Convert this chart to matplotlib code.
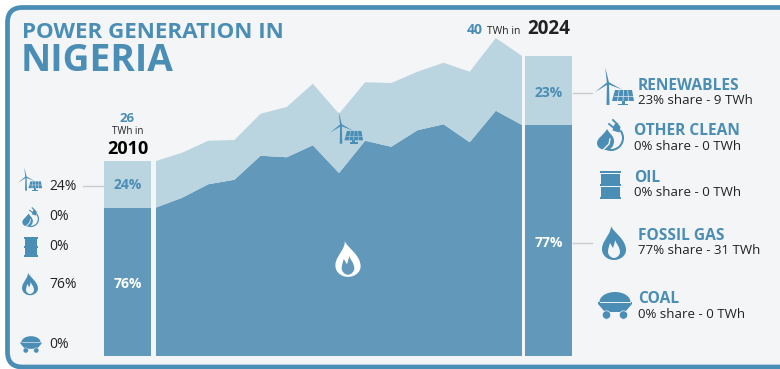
import numpy as np
import matplotlib
matplotlib.use('Agg')
import matplotlib.pyplot as plt
from matplotlib.patches import FancyBboxPatch, PathPatch, Polygon, Circle, Rectangle, Wedge, Ellipse
from matplotlib.path import Path

plt.rcParams['font.family'] = ['Open Sans', 'DejaVu Sans']

years = list(range(2010, 2025))
fossil_gas = [19.8, 21.1, 22.9, 23.5, 26.7, 26.5, 28.1, 24.4, 28.7, 27.9, 30.1, 30.9, 28.5, 32.7, 30.8]
renewables = [6.2, 6.0, 5.8, 5.3, 5.6, 6.7, 8.2, 7.9, 7.8, 8.5, 7.8, 8.2, 9.4, 9.7, 9.2]

sources = ['RENEWABLES', 'OTHER CLEAN', 'OIL', 'FOSSIL GAS', 'COAL']
share_2010 = [24, 0, 0, 76, 0]
share_2024 = [23, 0, 0, 77, 0]
twh_2024 = [9, 0, 0, 31, 0]
total_2010 = 26
total_2024 = 40

BLUE = '#4a8db5'
DARK = '#6299bb'
LIGHT = '#bad4e0'
BG = '#f3f5f7'
INK = '#222222'

fig = plt.figure(figsize=(7.8, 3.69), dpi=100, facecolor='white')


def pixel_axes(z):
    a = fig.add_axes([0, 0, 1, 1], zorder=z)
    a.set_xlim(0, 780)
    a.set_ylim(369, 0)
    a.axis('off')
    return a


back = pixel_axes(0)
front = pixel_axes(2)

# card behind everything
back.add_patch(FancyBboxPatch((7.5, 7.5), 790, 359.5, boxstyle='round,pad=0,rounding_size=15',
                              fc=BG, ec=BLUE, lw=3.4))

# chart axes: 26.14 px per year, 7.5 px per TWh, baseline at y=356
left, right = 2010 - 156 / 26.14, 2024 + 258 / 26.14
ax = fig.add_axes([0, 13 / 369, 1, 356 / 369], zorder=1)
ax.patch.set_alpha(0)
ax.set_xlim(left, right)
ax.set_ylim(0, 356 / 7.5)
ax.axis('off')

ax.stackplot(years, fossil_gas, renewables, colors=[DARK, LIGHT], lw=0)

# the two end bars
bar_x = [2008.91, 2025.01]
gas_ends = [fossil_gas[0], fossil_gas[-1]]
ren_ends = [renewables[0], renewables[-1]]
ax.bar(bar_x, gas_ends, width=1.8, color=DARK)
ax.bar(bar_x, ren_ends, bottom=gas_ends, width=1.8, color=LIGHT)


def curve(a, x, y, s, pts, fc):
    codes = [Path.MOVETO] + [Path.CURVE4] * (len(pts) - 1)
    a.add_patch(PathPatch(Path([(x + s * p, y + s * q) for p, q in pts], codes), fc=fc, lw=0))


def flame(a, x, y, s, fc, inner):
    outer = [(-3, -17), (-1, -11), (12, -4), (12, 7), (12, 13), (6, 17), (0, 17),
             (-6, 17), (-12, 13), (-12, 6), (-12, 0), (-8, -4), (-6, -8), (-4, -11), (-3, -14), (-3, -17)]
    hole = [(0, 15), (-3, 15), (-6, 12), (-6, 9), (-6, 6), (-5, 3), (-4, 0), (-3, 2), (-2, 3), (-1, 5),
            (0, 2), (1, -1), (1, -3), (2, 0), (6, 4), (6, 9), (6, 12), (3, 15), (0, 15)]
    curve(a, x, y, s, outer, fc)
    curve(a, x, y, s, hole, inner)


def turbine_solar(a, x, y, s, bg):
    # x, y is the hub of the turbine
    a.add_patch(Polygon([(x - s, y), (x + s, y), (x + 1.5 * s, y + 22 * s), (x - 1.5 * s, y + 22 * s)], fc=BLUE, lw=0))
    for ang in (100, 335, 215):
        t = np.radians(ang)
        d = np.array([np.cos(t), -np.sin(t)])
        n = np.array([-d[1], d[0]])
        tip = (x + 16 * s * d[0], y + 16 * s * d[1])
        a.add_patch(Polygon([(x + 1.1 * s * n[0], y + 1.1 * s * n[1]), (x - 1.1 * s * n[0], y - 1.1 * s * n[1]), tip],
                            fc=BLUE, lw=0))
    # solar panel
    px, py = x + 4 * s, y + 7 * s
    a.add_patch(Polygon([(px + 3 * s, py), (px + 20 * s, py), (px + 22 * s, py + 11 * s), (px, py + 11 * s)], fc=BLUE, lw=0))
    for i in range(1, 4):
        a.plot([px + (3 + 4.25 * i) * s, px + 5.5 * i * s], [py, py + 11 * s], color=bg, lw=0.45 * s)
    k = 0.5
    a.plot([px + 3 * (1 - k) * s, px + (20 + 2 * k) * s], [py + 11 * k * s] * 2, color=bg, lw=0.45 * s)
    a.add_patch(Rectangle((px + 9.5 * s, py + 11 * s), 3 * s, 3 * s, fc=BLUE, lw=0))
    a.add_patch(Rectangle((px + 6 * s, py + 13.5 * s), 10 * s, 1.5 * s, fc=BLUE, lw=0))


def clean_plug(a, x, y, s, bg):
    # ring, droplet with a leaf vein, plug at the upper right
    a.add_patch(Wedge((x, y), 13 * s, -40, 125, width=2 * s, fc=BLUE, lw=0))
    drop = [(-4, -9), (-7, -3), (-14, 0), (-14, 5), (-14, 10), (-9, 12), (-5, 12), (0, 12), (3, 8), (3, 3), (3, -2), (-2, -5), (-4, -9)]
    curve(a, x, y, s, drop, BLUE)
    a.plot([x - 8 * s, x - 2 * s, x - 1 * s], [y + 12 * s, y + 6 * s, y + 1 * s], color=bg, lw=1.0 * s)
    a.add_patch(Polygon([(x + 8.5 * s, y - 5.5 * s), (x + 1.5 * s, y - 7.5 * s), (x + 3 * s, y - 13 * s), (x + 6 * s, y - 15.5 * s),
                         (x + 9.5 * s, y - 11 * s)], fc=BLUE, lw=0))
    a.plot([x + 3 * s, x - 2 * s], [y - 10 * s, y - 14 * s], color=BLUE, lw=1.3 * s)
    a.plot([x + 6 * s, x + 2 * s], [y - 14 * s, y - 18 * s], color=BLUE, lw=1.3 * s)


def barrel(a, x, y, s):
    for dy in (-14, -0.8, 12.4):
        a.add_patch(Rectangle((x - 10.5 * s, y + dy * s), 21 * s, 1.6 * s, fc=BLUE, lw=0))
    for dy in (-11.5, 1.8):
        a.add_patch(Rectangle((x - 9.5 * s, y + dy * s), 19 * s, 10 * s, fc=BLUE, lw=0))


def coal_cart(a, x, y, s, bg):
    a.add_patch(Ellipse((x, y - 1 * s), 31 * s, 20 * s, fc=BLUE, lw=0))
    a.add_patch(Polygon([(x - 17 * s, y - 1 * s), (x + 17 * s, y - 1 * s), (x + 17 * s, y + 1 * s), (x + 10 * s, y + 9 * s),
                         (x - 10 * s, y + 9 * s), (x - 17 * s, y + 1 * s)], fc=BLUE, lw=0))
    a.plot([x - 15 * s, x + 15 * s], [y - 1 * s, y - 1 * s], color=bg, lw=0.7 * s)
    for cx in (-8.5, 8.5):
        a.add_patch(Circle((x + cx * s, y + 12 * s), 4.2 * s, fc=BLUE, ec=bg, lw=0.5 * s))


# title
back.text(22, 38, 'POWER GENERATION IN', color=BLUE, fontsize=16.1, fontweight='bold', va='baseline')
back.text(21, 71, 'NIGERIA', color=BLUE, fontsize=26.7, fontweight='bold', va='baseline')

# 2010 header
back.text(127.5, 118, str(total_2010), color=BLUE, fontsize=9.5, fontweight='bold', ha='center', va='center')
back.text(127.5, 132, 'TWh in', color=INK, fontsize=7, ha='center', va='center')
back.text(128, 149, '2010', color='black', fontsize=13, fontweight='bold', ha='center', va='center')

# 2024 header
back.text(483, 30, str(total_2024), color=BLUE, fontsize=10, fontweight='bold', ha='right', va='center')
back.text(487, 31, 'TWh in', color=INK, fontsize=7.5, ha='left', va='center')
back.text(527, 29, '2024', color=INK, fontsize=13.5, fontweight='bold', ha='left', va='center')

# bar labels
front.text(127.5, 185, f'{share_2010[0]}%', color=BLUE, fontsize=10, fontweight='bold', ha='center', va='center')
front.text(127.5, 284, f'{share_2010[3]}%', color='white', fontsize=10, fontweight='bold', ha='center', va='center')
front.text(548.5, 93, f'{share_2024[0]}%', color=BLUE, fontsize=10, fontweight='bold', ha='center', va='center')
front.text(548.5, 243, f'{share_2024[3]}%', color='white', fontsize=10, fontweight='bold', ha='center', va='center')

# connector lines
back.plot([83, 103], [186, 186], color='#c9cdd0', lw=1)
back.plot([573, 592], [93, 93], color='#c9cdd0', lw=1)
back.plot([573, 592], [243, 243], color='#c9cdd0', lw=1)

# left column
left_y = [186, 217, 247, 284, 344]
for share, yy in zip(share_2010, left_y):
    back.text(49, yy, f'{share}%', color=INK, fontsize=10, va='center')
turbine_solar(back, 26, 177, 0.62, BG)
clean_plug(back, 31, 219, 0.62, BG)
barrel(back, 31, 247, 0.68)
flame(back, 30, 284, 0.66, BLUE, BG)
coal_cart(back, 31, 343, 0.62, BG)

# right column
head_y = [85, 130, 177, 235, 298]
head_x = [638, 634, 634, 638, 638]
for name, share, twh, xx, yy in zip(sources, share_2024, twh_2024, head_x, head_y):
    back.text(xx, yy + 1, name, color=BLUE, fontsize=11.2, fontweight='bold', va='center')
    back.text(xx, yy + 16, f'{share}% share - {twh} TWh', color=INK, fontsize=9.5, va='center')
turbine_solar(back, 608, 83, 1.0, BG)
clean_plug(back, 611, 138, 1.0, BG)
barrel(back, 610, 185, 1.0)
flame(back, 614, 243, 1.0, BLUE, BG)
coal_cart(back, 615, 303, 1.0, BG)

# icons on the area
turbine_solar(front, 341, 125, 0.85, LIGHT)
flame(front, 348, 259, 1.05, 'white', DARK)

fig.savefig('out.png', dpi=100, facecolor='white')
